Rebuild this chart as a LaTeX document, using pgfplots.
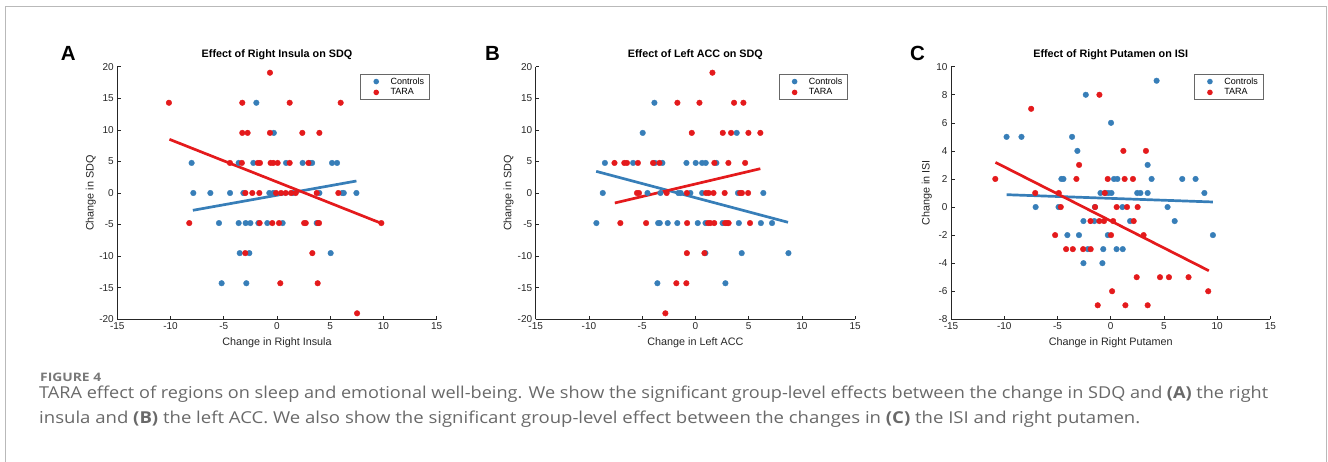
\documentclass[border=0pt]{standalone}
\usepackage{fontspec}
\setmainfont{Liberation Sans}
\newfontfamily\capfont{Open Sans}
\usepackage{graphicx}
\usepackage{pgfplots}
\pgfplotsset{compat=1.18}

\definecolor{ctrl}{RGB}{55,126,184}
\definecolor{tara}{RGB}{228,26,28}
\definecolor{axgray}{RGB}{38,38,38}
\definecolor{capgray}{RGB}{105,105,105}
\definecolor{framegray}{RGB}{185,185,185}

\pgfplotsset{
  panel/.style={
    scale only axis, width=319.4pt, height=252.6pt,
    anchor=south west,
    axis x line*=bottom, axis y line*=left,
    axis line style={axgray, line width=0.6pt, -},
    tick align=inside, major tick length=3.5pt,
    every tick/.style={axgray, line width=0.6pt},
    xmin=-15, xmax=15, xtick={-15,-10,...,15},
    /pgf/number format/assume math mode=true,
    ticklabel style={font=\fontsize{10}{12}\selectfont, text=axgray},
    label style={font=\fontsize{10.8}{13}\selectfont, text=axgray},
    title style={font=\fontsize{10.8}{13}\selectfont\bfseries,
      at={(axis description cs:0.5,1.024)}, anchor=center, yshift=0pt},
    xlabel style={at={(axis description cs:0.5,-0.091)}, anchor=center},
    legend style={at={(1,1)}, anchor=north east, xshift=-7.4pt, yshift=-7.6pt,
      draw=axgray!70, line width=0.5pt, font=\fontsize{9}{11}\selectfont,
      inner xsep=3pt, inner ysep=1.5pt,
      nodes={inner xsep=2pt, inner ysep=1.5pt, text depth=0.15em},
      cells={anchor=west}},
  },
  dots/.style={only marks, mark=*, mark size=2.8pt, color=#1,
    legend image code/.code={\path[draw=none, fill=none] (0pt,0pt) -- (25pt,0pt);
      \fill[draw=none, fill=#1] (12.7pt,0pt) circle (2.8pt);}},
  fit/.style={color=#1, line width=2.7pt, forget plot},
}

\begin{document}
\begin{tikzpicture}[x=1pt, y=1pt]
\path[use as bounding box] (0,0) rectangle (1328,461);
\draw[framegray, line width=1pt] (5,-2) -- (5,454.5) -- (1326,454.5) -- (1326,-2);

% ---------- A ----------
\begin{axis}[panel, at={(117.3pt,141.7pt)},
  ymin=-20, ymax=20, ytick={-20,-15,...,20},
  ylabel style={at={(axis description cs:-0.083,0.5)}, anchor=center},
  title={Effect of Right Insula on SDQ},
  xlabel={Change in Right Insula}, ylabel={Change in SDQ}]
\addplot[dots=ctrl] coordinates {
 (-1.94,14.29) (-0.3,9.52)
 (-8.02,4.76) (-3.6,4.76) (-2.22,4.76) (0.85,4.76) (2.41,4.76) (3.1,4.76) (3.3,4.76) (5.17,4.76) (5.64,4.76)
 (-7.86,0) (-6.26,0) (-4.41,0) (-3.16,0) (-0.72,0) (-0.34,0) (1.5,0) (3.98,0) (6.14,0) (6.27,0) (7.46,0)
 (-5.45,-4.76) (-3.6,-4.76) (-2.94,-4.76) (-2.5,-4.76) (-1.75,-4.76) (-0.91,-4.76) (0.53,-4.76) (3.73,-4.76)
 (-3.5,-9.52) (-2.6,-9.52) (5.04,-9.52)
 (-5.2,-14.29) (-2.88,-14.29)
};
\addplot[dots=tara] coordinates {
 (-0.66,19.05)
 (-10.15,14.29) (-3.26,14.29) (1.19,14.29) (5.98,14.29)
 (-3.26,9.52) (-2.76,9.52) (-0.66,9.52) (2.38,9.52) (3.98,9.52)
 (-4.42,4.76) (-3.3,4.76) (-1.8,4.76) (-1.6,4.76) (-0.6,4.76) (-0.35,4.76) (0.06,4.76) (1.19,4.76) (2.95,4.76)
 (-2.97,0) (-2.32,0) (-1.66,0) (-0.09,0) (0.38,0) (0.82,0) (1.32,0) (1.76,0) (3.73,0) (5.76,0)
 (-8.24,-4.76) (-1.63,-4.76) (-0.44,-4.76) (0.19,-4.76) (2.55,-4.76) (2.7,-4.76) (3.85,-4.76) (3.95,-4.76) (9.8,-4.76)
 (-2.98,-9.52) (3.32,-9.52)
 (0.31,-14.29) (3.82,-14.29)
 (7.52,-19.05)
};
\addplot[fit=ctrl] coordinates {(-7.9,-2.74) (7.46,1.9)};
\addplot[fit=tara] coordinates {(-10.1,8.5) (9.8,-4.8)};
\legend{Controls, TARA}
\end{axis}

% ---------- B ----------
\begin{axis}[panel, at={(535.7pt,141.7pt)},
  ymin=-20, ymax=20, ytick={-20,-15,...,20},
  ylabel style={at={(axis description cs:-0.085,0.5)}, anchor=center},
  title={Effect of Left ACC on SDQ},
  xlabel={Change in Left ACC}, ylabel={Change in SDQ}]
\addplot[dots=ctrl] coordinates {
 (-3.85,14.29)
 (-4.95,9.52) (3.88,9.52)
 (-8.5,4.76) (-5.85,4.76) (-3.8,4.76) (-3.1,4.76) (-0.84,4.76) (0.03,4.76) (0.63,4.76) (0.97,4.76) (1.97,4.76)
 (-8.7,0) (-4.5,0) (-3.28,0) (-1.6,0) (-1.38,0) (-0.47,0) (0.63,0) (4.0,0) (6.38,0)
 (-9.3,-4.76) (-3.5,-4.76) (-3.35,-4.76) (-2.6,-4.76) (-1.7,-4.76) (0.22,-4.76) (0.95,-4.76) (2.55,-4.76) (4.08,-4.76) (6.15,-4.76) (7.2,-4.76)
 (0.94,-9.52) (4.35,-9.52) (8.74,-9.52)
 (-3.57,-14.29) (2.82,-14.29)
};
\addplot[dots=tara] coordinates {
 (1.6,19.05)
 (-1.69,14.29) (0.38,14.29) (3.63,14.29) (4.51,14.29)
 (-0.34,9.52) (2.57,9.52) (3.35,9.52) (4.98,9.52) (6.1,9.52)
 (-7.6,4.76) (-6.68,4.76) (-6.43,4.76) (-5.4,4.76) (-3.98,4.76) (-3.38,4.76) (1.78,4.76) (3.1,4.76) (4.67,4.76)
 (-5.49,0) (-5.3,0) (-2.7,0) (-0.8,0) (1.0,0) (1.25,0) (1.7,0) (2.75,0) (4.2,0) (4.37,0) (4.95,0)
 (-7.05,-4.76) (-4.63,-4.76) (-0.78,-4.76) (1.19,-4.76) (1.4,-4.76) (1.77,-4.76) (2.8,-4.76) (2.98,-4.76) (3.12,-4.76) (5.13,-4.76)
 (-0.8,-9.52) (0.85,-9.52)
 (-1.79,-14.29) (-0.85,-14.29)
 (-2.82,-19.05)
};
\addplot[fit=ctrl] coordinates {(-9.32,3.43) (8.7,-4.64)};
\addplot[fit=tara] coordinates {(-7.57,-1.58) (6.1,3.85)};
\legend{Controls, TARA}
\end{axis}

% ---------- C ----------
\begin{axis}[panel, at={(951pt,141.7pt)},
  ymin=-8, ymax=10, ytick={-8,-6,...,10},
  ylabel style={at={(axis description cs:-0.076,0.5)}, anchor=center},
  title={Effect of Right Putamen on ISI},
  xlabel={Change in Right Putamen}, ylabel={Change in ISI}]
\addplot[dots=ctrl] coordinates {
 (4.31,9) (-2.34,8) (0.03,6)
 (-9.78,5) (-8.38,5) (-3.63,5)
 (-3.13,4) (3.47,3)
 (-4.63,2) (-4.44,2) (0.31,2) (0.63,2) (3.84,2) (6.72,2) (7.97,2)
 (-0.96,1) (-0.5,1) (-0.22,1) (0.07,1) (2.49,1) (2.79,1) (3.47,1) (8.8,1)
 (-7.05,0) (-4.9,0) (-1.48,0) (1.1,0) (5.34,0)
 (-2.56,-1) (-1.54,-1) (1.82,-1) (6.01,-1)
 (-4.07,-2) (-2.98,-2) (-0.27,-2) (9.6,-2)
 (-2.15,-3) (-0.7,-3) (0.55,-3) (1.13,-3)
 (-2.56,-4) (-0.78,-4)
};
\addplot[dots=tara] coordinates {
 (-1.06,8) (-7.47,7)
 (1.19,4) (3.31,4) (-2.97,3)
 (-10.84,2) (-3.22,2) (-0.28,2) (1.31,2) (2.09,2)
 (-7.09,1) (-4.88,1) (-0.56,1)
 (-4.69,0) (-1.47,0) (0.56,0) (1.53,0) (2.53,0)
 (-1.9,-1) (-1.07,-1) (-0.63,-1) (0.23,-1) (2.16,-1)
 (-5.22,-2) (0.03,-2) (3.09,-2)
 (-4.19,-3) (-3.56,-3) (-2.59,-3) (-1.88,-3)
 (2.44,-5) (4.63,-5) (5.47,-5) (7.31,-5)
 (0.13,-6) (9.16,-6)
 (-1.22,-7) (1.38,-7) (3.47,-7)
};
\addplot[fit=ctrl] coordinates {(-9.78,0.88) (9.59,0.36)};
\addplot[fit=tara] coordinates {(-10.82,3.18) (9.22,-4.54)};
\legend{Controls, TARA}
\end{axis}

% panel letters
\begin{scope}[every node/.style={anchor=base west, inner sep=0pt,
    font=\fontsize{20.5}{24}\selectfont\bfseries}]
\node at (60.7,400.3) {A};
\node at (485,400.3) {B};
\node at (910,400.3) {C};
\end{scope}

% caption
\node[anchor=base west, inner sep=0pt, text=capgray!90,
  font=\capfont\bfseries\fontsize{11.7}{14}\selectfont] at (40,79.3)
  {\resizebox{61pt}{\height}{FIGURE 4}};
\node[anchor=base west, inner sep=0pt, text=capgray,
  font=\capfont\fontsize{16.4}{20}\selectfont] at (39,62.7)
  {\resizebox{1229pt}{\height}{TARA effect of regions on sleep and emotional well-being. We show the significant group-level effects between the change in SDQ and \textbf{(A)} the right}};
\node[anchor=base west, inner sep=0pt, text=capgray,
  font=\capfont\fontsize{16.4}{20}\selectfont] at (39,37.7)
  {\resizebox{1101pt}{\height}{insula and \textbf{(B)} the left ACC. We also show the significant group-level effect between the changes in \textbf{(C)} the ISI and right putamen.}};
\end{tikzpicture}
\end{document}
